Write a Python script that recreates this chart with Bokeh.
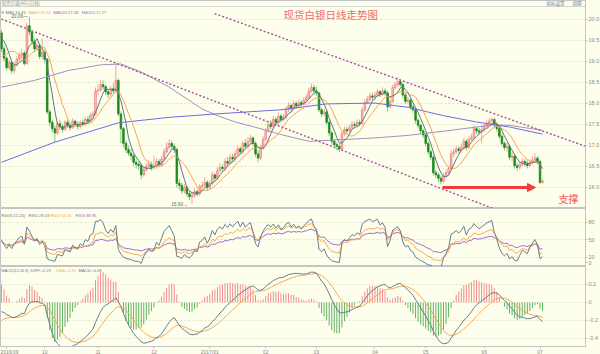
import numpy as np
import pandas as pd
from bokeh.plotting import figure
from bokeh.layouts import column
from bokeh.models import (Range1d, FixedTicker, Label, Span, Arrow, NormalHead,
                          NumeralTickFormatter, CustomJSTickFormatter)
from bokeh.embed import file_html
from bokeh.resources import INLINE

# ---------------- data (spot silver, daily) ----------------
# warm-up closes before the first visible candle (used only for MA / RSI / MACD)
pre_close = [20.10, 20.20, 20.30, 20.30, 20.10, 20.20, 19.60, 19.50, 19.80, 19.60,
             19.60, 19.70, 20.00, 20.10, 20.40, 20.40, 20.50, 20.30, 20.30, 19.80,
             19.70, 19.90, 20.00, 19.80, 19.80, 19.80, 19.95, 19.75, 19.65, 19.60,
             19.00, 19.05, 18.70, 18.65, 18.75, 18.60, 18.40, 18.70, 18.90, 19.50,
             19.50, 19.80, 19.70]

first_open = 19.68

close = [19.30, 19.08, 18.85, 18.98, 18.78, 18.92, 19.05, 19.15, 19.20, 18.95,
         19.85, 19.70, 19.48, 19.30, 19.38, 19.12, 19.22, 19.05, 17.80, 17.55,
         17.40, 17.30, 17.52, 17.45, 17.38, 17.55, 17.48, 17.42, 17.58, 17.50,
         17.45, 17.55, 17.50, 17.62, 17.58, 17.72, 17.75, 18.30, 18.32, 18.45,
         18.40, 18.28, 18.22, 18.35, 18.30, 18.55, 17.75, 17.40, 17.05, 16.90,
         16.82, 16.75, 16.60, 16.55, 16.52, 16.30, 16.42, 16.50, 16.55, 16.48,
         16.50, 16.62, 16.55, 16.68, 16.85, 16.95, 17.05, 16.98, 16.90, 16.10,
         16.05, 15.92, 16.00, 15.85, 15.78, 15.82, 15.90, 15.85, 16.02, 16.05,
         16.12, 16.00, 16.10, 16.30, 16.22, 16.40, 16.48, 16.45, 16.62, 16.58,
         16.72, 16.68, 16.80, 16.92, 16.85, 17.05, 16.98, 17.10, 17.18, 17.05,
         16.80, 16.70, 16.95, 17.15, 17.35, 17.50, 17.45, 17.62, 17.55, 17.70,
         17.62, 17.68, 17.85, 17.95, 17.88, 18.00, 17.95, 18.02, 17.98, 18.08,
         18.15, 18.30, 18.38, 18.30, 18.25, 17.85, 17.75, 17.80, 17.55, 17.30,
         17.10, 17.02, 16.98, 16.92, 17.28, 17.38, 17.35, 17.42, 17.50, 17.48,
         17.55, 17.52, 17.85, 18.02, 18.10, 18.18, 18.15, 18.20, 18.28, 18.22,
         18.30, 18.25, 17.92, 18.05, 18.38, 18.45, 18.52, 18.45, 18.20, 18.05,
         18.08, 17.92, 17.85, 17.60, 17.48, 17.35, 17.25, 17.05, 16.85, 16.72,
         16.35, 16.30, 16.22, 16.15, 16.28, 16.35, 16.45, 16.80, 16.85, 16.92,
         16.88, 16.95, 17.10, 16.95, 17.15, 17.20, 17.40, 17.35, 17.32, 17.38,
         17.45, 17.52, 17.58, 17.62, 17.50, 17.40, 17.22, 17.05, 16.95, 16.98,
         16.72, 16.75, 16.52, 16.48, 16.55, 16.62, 16.58, 16.52, 16.60, 16.65,
         16.70, 16.62, 16.12, 16.15]

high = [19.75, 19.38, 19.12, 19.05, 19.02, 18.98, 19.12, 19.22, 19.30, 19.25,
        19.92, 20.06, 19.75, 19.55, 19.45, 19.42, 19.55, 19.28, 19.08, 17.85,
        17.62, 17.48, 17.58, 17.62, 17.50, 17.60, 17.62, 17.55, 17.65, 17.62,
        17.58, 17.60, 17.62, 17.68, 17.70, 17.78, 17.82, 18.38, 18.45, 18.55,
        18.55, 18.45, 18.35, 18.42, 18.48, 18.98, 18.60, 17.82, 17.45, 17.12,
        17.00, 16.92, 16.80, 16.68, 16.62, 16.58, 16.50, 16.58, 16.65, 16.62,
        16.76, 16.70, 16.68, 16.75, 16.92, 17.08, 17.15, 17.12, 17.05, 16.95,
        16.20, 16.12, 16.08, 16.05, 15.92, 15.90, 15.98, 15.95, 16.08, 16.15,
        16.25, 16.18, 16.18, 16.38, 16.35, 16.48, 16.58, 16.55, 16.70, 16.72,
        16.80, 16.80, 16.88, 17.00, 16.98, 17.12, 17.15, 17.20, 17.25, 17.22,
        17.10, 16.88, 17.02, 17.22, 17.42, 17.58, 17.60, 17.70, 17.68, 17.78,
        17.75, 17.75, 17.92, 18.02, 18.00, 18.08, 18.06, 18.10, 18.08, 18.15,
        18.22, 18.38, 18.48, 18.45, 18.40, 18.28, 17.90, 17.88, 17.85, 17.60,
        17.35, 17.15, 17.08, 17.05, 17.35, 17.45, 17.45, 17.50, 17.58, 17.58,
        17.62, 17.62, 17.92, 18.10, 18.18, 18.25, 18.25, 18.28, 18.35, 18.32,
        18.38, 18.36, 18.30, 18.12, 18.45, 18.52, 18.63, 18.58, 18.50, 18.25,
        18.15, 18.12, 17.98, 17.90, 17.65, 17.52, 17.40, 17.30, 17.10, 16.90,
        16.78, 16.42, 16.35, 16.28, 16.35, 16.42, 16.52, 16.88, 16.92, 17.00,
        16.98, 17.05, 17.18, 17.15, 17.22, 17.28, 17.48, 17.45, 17.42, 17.45,
        17.52, 17.60, 17.65, 17.67, 17.65, 17.55, 17.45, 17.28, 17.10, 17.08,
        17.02, 16.85, 16.80, 16.60, 16.62, 16.70, 16.68, 16.65, 16.68, 16.75,
        16.82, 16.75, 16.66, 16.20]

low = [19.22, 19.00, 18.78, 18.80, 18.70, 18.72, 18.88, 19.00, 19.05, 18.90,
       18.92, 19.62, 19.40, 19.22, 19.25, 19.05, 19.05, 18.95, 17.75, 17.45,
       17.32, 17.08, 17.25, 17.38, 17.30, 17.35, 17.42, 17.35, 17.40, 17.45,
       17.38, 17.40, 17.45, 17.48, 17.52, 17.55, 17.65, 17.72, 18.20, 18.28,
       18.32, 18.20, 18.12, 18.15, 18.22, 18.25, 17.70, 17.05, 16.95, 16.82,
       16.75, 16.65, 16.52, 16.45, 16.42, 16.20, 16.25, 16.38, 16.45, 16.40,
       16.42, 16.45, 16.48, 16.50, 16.62, 16.80, 16.90, 16.90, 16.82, 16.00,
       15.95, 15.85, 15.85, 15.78, 15.70, 15.60, 15.75, 15.78, 15.80, 15.95,
       16.00, 15.92, 15.95, 16.05, 16.15, 16.18, 16.35, 16.38, 16.40, 16.50,
       16.55, 16.60, 16.62, 16.75, 16.78, 16.80, 16.90, 16.92, 17.02, 16.98,
       16.72, 16.60, 16.65, 16.90, 17.10, 17.30, 17.38, 17.40, 17.48, 17.50,
       17.55, 17.58, 17.62, 17.80, 17.82, 17.85, 17.88, 17.90, 17.92, 17.95,
       18.02, 18.10, 18.25, 18.22, 18.18, 17.80, 17.68, 17.70, 17.48, 17.22,
       17.02, 16.95, 16.88, 16.84, 16.88, 17.22, 17.28, 17.30, 17.38, 17.40,
       17.42, 17.45, 17.50, 17.80, 17.98, 18.05, 18.08, 18.08, 18.15, 18.15,
       18.18, 18.18, 17.82, 17.88, 18.02, 18.32, 18.40, 18.38, 18.12, 17.98,
       17.98, 17.85, 17.78, 17.52, 17.40, 17.28, 17.18, 16.98, 16.78, 16.65,
       16.28, 16.22, 16.12, 16.08, 16.10, 16.22, 16.30, 16.42, 16.72, 16.80,
       16.80, 16.85, 16.90, 16.88, 16.92, 17.10, 17.15, 17.28, 17.25, 17.05,
       17.32, 17.40, 17.48, 17.50, 17.42, 17.32, 17.15, 16.98, 16.88, 16.85,
       16.65, 16.62, 16.45, 16.40, 16.42, 16.50, 16.50, 16.45, 16.48, 16.55,
       16.60, 16.55, 16.08, 16.09]

# long moving averages (candle index, price)
ma100_idx = [0, 13, 26, 39, 47, 55, 66, 79, 85, 92, 102, 110, 121, 134, 147, 160, 174, 187, 193, 200, 213]
ma100_val = [18.39, 18.55, 18.78, 18.92, 18.94, 18.75, 18.39, 17.87, 17.71, 17.56, 17.40, 17.26,
             17.10, 17.14, 17.18, 17.24, 17.34, 17.44, 17.49, 17.48, 17.36]
ma200_idx = [0, 21, 46, 66, 84, 110, 128, 147, 160, 174, 187, 200, 213]
ma200_val = [16.60, 17.08, 17.54, 17.67, 17.75, 17.85, 17.99, 18.01, 17.91, 17.71, 17.56, 17.44, 17.27]

# indicator read-outs printed in the panel headers (as shown on the chart)
ma_legend = ["MA5:16.45", "MA10:16.51", "MA100:17.36", "MA200:17.27"]
rsi_legend = ["RSI1:29.43", "RSI2:34.05", "RSI3:38.96"]
macd_legend = ["DIFF:-0.19", "DEA:-0.15", "MACD:-0.08"]

# month ticks on the time axis (candle index -> label)
month_idx = [2, 17, 38, 60, 82, 104, 124, 147, 167, 190, 212]
month_lbl = ["2016/09", "10", "11", "12", "2017/01", "02", "03", "04", "05", "06", "07"]

# channel lines (candle index, price)
trend_a_idx = [0, 196.5]
trend_a_px = [20.01, 15.43]
trend_b_idx = [83.9, 229.9]
trend_b_px = [20.14, 16.98]
support_idx = [173.6, 210.2]
support_px = 16.0

price_ticks = [16.0, 16.5, 17.0, 17.5, 18.0, 18.5, 19.0, 19.5, 20.0]
rsi_ticks = [20, 50, 80]
macd_ticks = [0.2, 0.0, -0.2, -0.4]

# ---------------- derived series ----------------
n = len(close)
assert len(high) == n and len(low) == n
idx = np.arange(n)
opn = np.array([first_open] + close[:-1])
cls = np.array(close)
hi = np.maximum.reduce([np.array(high), opn, cls])
lo = np.minimum.reduce([np.array(low), opn, cls])

allc = pd.Series(pre_close + close, dtype=float)
npre = len(pre_close)
ma5 = allc.rolling(5).mean().values[npre:]
ma10 = allc.rolling(10).mean().values[npre:]

d = allc.diff().fillna(0.0)
def csma(x, k):
    return x.ewm(alpha=1.0 / k, adjust=False).mean()
def rsi(k):
    return (csma(d.clip(lower=0), k) / csma(d.abs(), k) * 100).values[npre:]
rsi1, rsi2, rsi3 = rsi(6), rsi(12), rsi(24)

ema12 = allc.ewm(span=12, adjust=False).mean()
ema26 = allc.ewm(span=26, adjust=False).mean()
dif_s = ema12 - ema26
dea_s = dif_s.ewm(span=9, adjust=False).mean()
dif = dif_s.values[npre:]
dea = dea_s.values[npre:]
hist = 2 * (dif - dea)

# ---------------- styling ----------------
BG = "#FEFEEC"
GRID = "#E2E2D2"
FRAME = "#C4C4C4"
TXT = "#8A8A8A"
UP_LINE, UP_FILL, UP_WICK = "#F07C7C", "#FCCACA", "#F5A5A5"
DN_FILL, DN_WICK = "#1C8C1C", "#86C886"
C_MA5, C_MA10, C_MA100, C_MA200 = "#5E7886", "#F4A65A", "#A390BC", "#6C6CE4"
C_R1, C_R2, C_R3 = "#6A7E8A", "#F5AA55", "#9C6CCA"
RED = "#F23A3A"
FONT = "Liberation Sans"
CJK = "Noto Sans CJK SC"
HFS = "4.2px"

xr = Range1d(-0.4, 229.9)

def make_fig(fh, yr, below=False):
    p = figure(frame_width=585, frame_height=fh, x_range=xr, y_range=yr,
               x_axis_location="below" if below else None, y_axis_location="right",
               toolbar_location=None, output_backend="svg",
               min_border_left=0, min_border_right=15, min_border_top=0, min_border_bottom=0,
               background_fill_color=BG, border_fill_color=BG,
               outline_line_color=FRAME, outline_line_width=1)
    p.xgrid.visible = False
    p.ygrid.grid_line_color = GRID
    p.ygrid.grid_line_dash = "2 2"
    ax = p.yaxis[0]
    ax.axis_line_color = FRAME
    ax.major_tick_line_color = FRAME
    ax.major_tick_out = 2
    ax.major_tick_in = 0
    ax.minor_tick_line_color = None
    ax.major_label_standoff = 1
    ax.major_label_text_font = FONT
    ax.major_label_text_font_size = "5.5px"
    ax.major_label_text_color = TXT
    return p

def hdr(p, fh, x, y_from_top, text, color, size=HFS, font=FONT):
    p.add_layout(Label(x=x, y=fh - y_from_top, x_units="screen", y_units="screen", text=text,
                       text_font=font, text_font_size=size, text_color=color,
                       text_baseline="middle", text_align="left"))

# ---------------- main price panel ----------------
p1 = make_fig(208, Range1d(15.5, 20.452))
p1.yaxis.ticker = FixedTicker(ticks=price_ticks)
p1.yaxis.formatter = NumeralTickFormatter(format="0.0")
p1.ygrid.ticker = FixedTicker(ticks=price_ticks)
p1.add_layout(Span(location=20.31, dimension="width", line_color="#D4D4D4", line_width=1))

up = cls >= opn
dn = ~up
p1.segment(idx[up], hi[up], idx[up], lo[up], line_color=UP_WICK, line_width=1)
p1.segment(idx[dn], hi[dn], idx[dn], lo[dn], line_color=DN_WICK, line_width=1)
p1.vbar(x=idx[up], width=0.62, top=np.maximum(opn, cls)[up], bottom=np.minimum(opn, cls)[up],
        fill_color=UP_FILL, line_color=UP_LINE, line_width=0.8)
p1.vbar(x=idx[dn], width=0.62, top=np.maximum(opn, cls)[dn], bottom=np.minimum(opn, cls)[dn],
        fill_color=DN_FILL, line_color=DN_FILL, line_width=0.8)

p1.line(ma100_idx, ma100_val, line_color=C_MA100, line_width=1)
p1.line(ma200_idx, ma200_val, line_color=C_MA200, line_width=1)
p1.line(idx, ma10, line_color=C_MA10, line_width=1)
p1.line(idx, ma5, line_color=C_MA5, line_width=1)

p1.line(trend_a_idx, trend_a_px, line_color="#A8509C", line_width=1.4, line_dash="2 2")
p1.line(trend_b_idx, trend_b_px, line_color="#A8509C", line_width=1.4, line_dash="2 2")
p1.add_layout(Arrow(end=NormalHead(size=8, fill_color=RED, line_color=RED),
                    x_start=support_idx[0], y_start=support_px, x_end=support_idx[1], y_end=support_px,
                    line_color=RED, line_width=3))

hi_i = int(np.argmax(hi)); lo_i = int(np.argmin(lo))
p1.add_layout(Label(x=hi_i - 0.6, y=hi[hi_i] + 0.01, text="%.2f\u2014" % hi[hi_i], text_font=FONT,
                    text_font_size="4.8px", text_color="#666666", text_align="right", text_baseline="middle"))
p1.add_layout(Label(x=lo_i - 1.6, y=lo[lo_i], text="%.2f\u2192" % lo[lo_i], text_font=FONT,
                    text_font_size="4.8px", text_color="#666666", text_align="right", text_baseline="middle"))
p1.add_layout(Label(x=111, y=20.12, text="现货白银日线走势图", text_font=CJK, text_font_size="10.5px",
                    text_color="#F06C6C", text_align="left", text_baseline="middle"))
p1.add_layout(Label(x=219.3, y=15.74, text="支撑", text_font=CJK, text_font_size="10px",
                    text_color="#F05A5A", text_align="left", text_baseline="middle"))

hdr(p1, 208, 1, 2.5, "现货白银(AG)(日线)", "#909090", "4.5px", CJK)
hdr(p1, 208, 546, 2.5, "指标设置", "#5A7AA8", "4.5px", CJK)
hdr(p1, 208, 572, 2.5, "周期", "#5A7AA8", "4.5px", CJK)
hdr(p1, 208, 587, 2.5, "日线", "#5A7AA8", "4.5px", CJK)
hdr(p1, 208, 1, 12, "K", "#777777")
hdr(p1, 208, 5, 12, ma_legend[0], C_MA5)
hdr(p1, 208, 28, 12, ma_legend[1], C_MA10)
hdr(p1, 208, 53, 12, ma_legend[2], "#9A64C4")
hdr(p1, 208, 81, 12, ma_legend[3], "#7288EC")

# ---------------- RSI panel ----------------
p2 = make_fig(58, Range1d(4.57, 104.0))
p2.yaxis.ticker = FixedTicker(ticks=[11] + rsi_ticks)
p2.yaxis.formatter = CustomJSTickFormatter(code="return tick < 15 ? '0' : tick.toFixed(0);")
p2.ygrid.ticker = FixedTicker(ticks=rsi_ticks)
p2.line(idx, rsi3, line_color=C_R3, line_width=1)
p2.line(idx, rsi2, line_color=C_R2, line_width=1)
p2.line(idx, rsi1, line_color=C_R1, line_width=1)
hdr(p2, 58, 1, 7, "RSI(6,12,24)", "#777777")
hdr(p2, 58, 28, 7, rsi_legend[0], C_R1)
hdr(p2, 58, 50, 7, rsi_legend[1], C_R2)
hdr(p2, 58, 75, 7, rsi_legend[2], C_R3)

# ---------------- MACD panel ----------------
p3 = make_fig(80, Range1d(-0.489, 0.4), below=True)
p3.yaxis.ticker = FixedTicker(ticks=macd_ticks)
p3.yaxis.formatter = CustomJSTickFormatter(code="return Math.abs(tick) < 1e-9 ? '0' : tick.toFixed(1);")
p3.ygrid.ticker = FixedTicker(ticks=macd_ticks)
pos = hist >= 0
p3.segment(idx[pos], 0, idx[pos], hist[pos], line_color="#F28C8C", line_width=1)
p3.segment(idx[~pos], 0, idx[~pos], hist[~pos], line_color="#62B262", line_width=1)
p3.line(idx, dea, line_color=C_R2, line_width=1)
p3.line(idx, dif, line_color=C_R1, line_width=1)
xa = p3.xaxis[0]
xa.ticker = FixedTicker(ticks=month_idx)
xa.major_label_overrides = {i: s for i, s in zip(month_idx, month_lbl)}
xa.axis_line_color = FRAME
xa.major_tick_line_color = FRAME
xa.major_tick_out = 2
xa.major_tick_in = 0
xa.minor_tick_line_color = None
xa.major_label_standoff = 0
xa.major_label_text_font = FONT
xa.major_label_text_font_size = "5px"
xa.major_label_text_color = TXT
hdr(p3, 80, 1, 4, "MACD(12,26,9)", "#777777", "3.9px")
hdr(p3, 80, 30, 4, macd_legend[0], C_R1)
hdr(p3, 80, 56, 4, macd_legend[1], C_R2)
hdr(p3, 80, 78, 4, macd_legend[2], "#777777")

layout = column(p1, p2, p3, spacing=0, background=BG)
open("out.html", "w").write(file_html(layout, INLINE))
